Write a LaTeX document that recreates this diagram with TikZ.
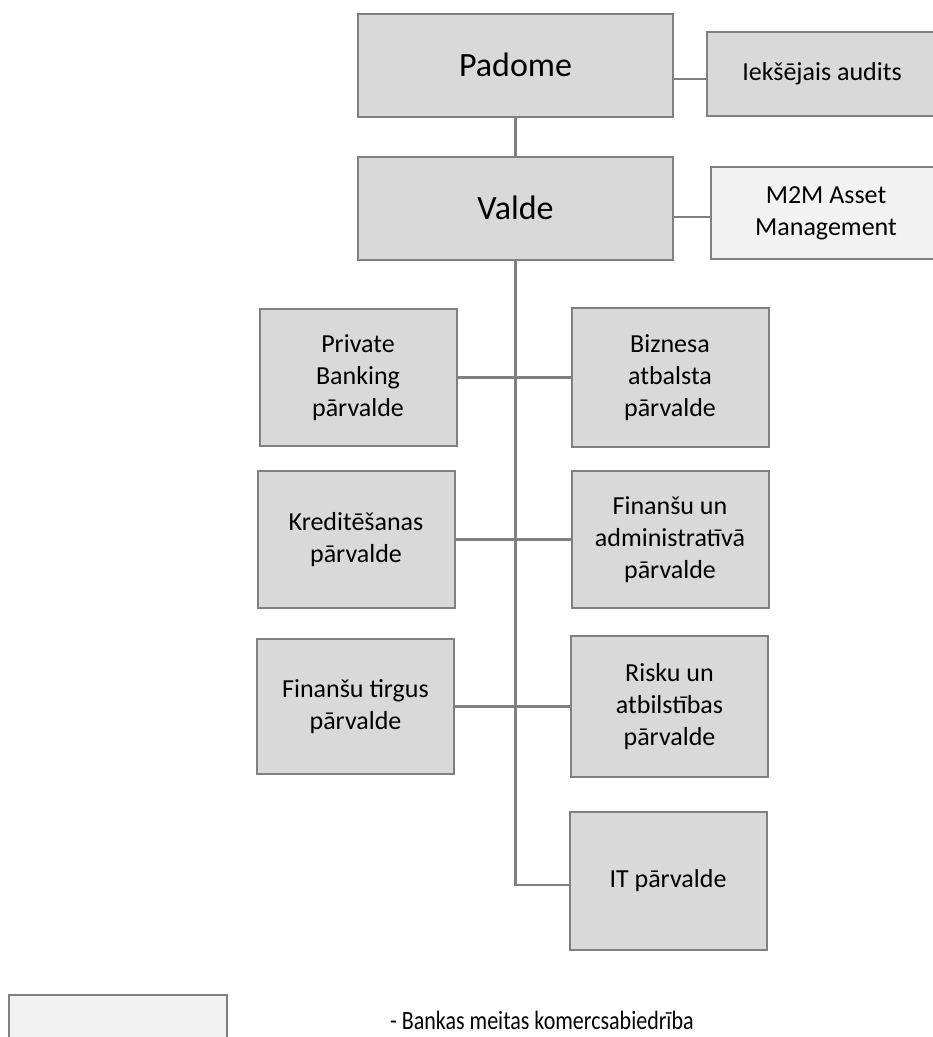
\documentclass[tikz,border=0pt]{standalone}
\usepackage{fontspec}
\setmainfont{Carlito}
\usepackage{tikz}
\usetikzlibrary{positioning}
\definecolor{boxgray}{HTML}{D9D9D9}
\definecolor{boxlight}{HTML}{F2F2F2}
\definecolor{linegray}{HTML}{808080}

\begin{document}
\begin{tikzpicture}[x=1pt, y=-1pt]
          \tikzstyle{bignode} = [draw=linegray, fill=boxgray, line width=2pt, rectangle, inner sep=0pt, minimum width=315pt, minimum height=103pt, align=center, font=\fontsize{34}{40}\selectfont]
          \tikzstyle{dnode} = [draw=linegray, fill=boxgray, line width=2pt, rectangle, inner sep=0pt, minimum width=197pt, minimum height=137pt, align=center, font=\fontsize{26}{32}\selectfont]
          \tikzstyle{snode} = [dnode, minimum width=230pt]
          \tikzstyle{link} = [draw=linegray, line width=2.5pt]
          \useasboundingbox (0,0) rectangle (933,1037);
          \clip (0,0) rectangle (933,1037);

          \node[bignode] (padome) at (515.5, 65) {Padome};
          \node[bignode] (valde) at (515.5, 208) {Valde};
          \node[snode, minimum height=84pt] (audits) at (822, 74) {Iekšējais audits};
          \node[snode, fill=boxlight, minimum height=92pt] (m2m) at (826, 213) {M2M Asset\\Management};

          \node[dnode] (pb) at (358, 377.5) {Private\\Banking\\pārvalde};
          \node[dnode, right = 113pt of pb, minimum height=139pt] (biz) {Biznesa\\atbalsta\\pārvalde};
          \node[dnode] (kred) at (356, 539.5) {Kreditēšanas\\pārvalde};
          \node[dnode, right = 115pt of kred] (fin) {Finanšu un\\administratīvā\\pārvalde};
          \node[dnode, minimum height=135pt] (tirg) at (355.5, 706.5) {Finanšu tirgus\\pārvalde};
          \node[dnode, right = 115pt of tirg, minimum height=141pt] (risk) {Risku un\\atbilstības\\pārvalde};
          \node[dnode, minimum height=138pt] (it) at (668, 881) {IT pārvalde};

          \draw[link] (padome.south) -- (valde.north);
          \draw[link] ([yshift=-5pt]audits.west) -- ([yshift=-5pt]audits.west -| padome.east);
          \draw[link] ([yshift=-4pt]m2m.west) -- ([yshift=-4pt]m2m.west -| valde.east);
          \draw[link] (valde.south) |- ([yshift=-4pt]it.west);
          \draw[link] (pb.east) -- (pb.east -| biz.west);
          \draw[link] (kred.east) -- (fin.west);
          \draw[link] (tirg.east) -- (tirg.east -| risk.west);

          \node[draw=linegray, fill=boxlight, line width=2pt, minimum width=218pt, minimum height=70pt] (leg) at (118, 1030) {};
          \node[anchor=base west, inner sep=0pt, font=\fontsize{22}{24}\selectfont] (legtxt) at (390, 1029) {\scalebox{1}[1.2]{- Bankas meitas komercsabiedrība}};
        \end{tikzpicture}
\end{document}
